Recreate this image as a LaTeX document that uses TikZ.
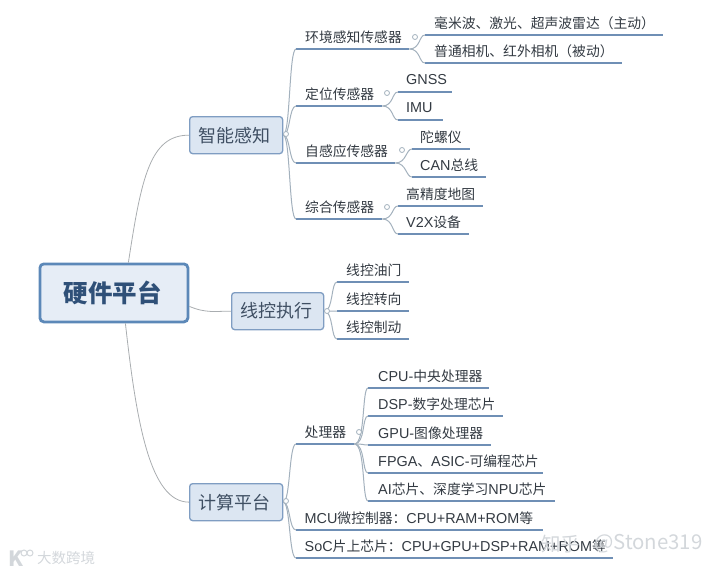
\documentclass[tikz,border=0pt]{standalone}
\usepackage{fontspec}
\setmainfont{Noto Sans CJK SC}
\newfontfamily\libfont{Liberation Sans}
\newcommand\lat[1]{{\libfont\fontsize{14.4}{16}\selectfont #1}}
\definecolor{inkroot}{HTML}{2F5078}
\definecolor{inktop}{HTML}{3F4F63}
\definecolor{inkleaf}{HTML}{333A42}
\definecolor{fillbox}{HTML}{DCE6F2}
\definecolor{edgeroot}{HTML}{5C88B8}
\definecolor{edgebox}{HTML}{7F9DC2}
\definecolor{uline}{HTML}{6F8FB5}
\definecolor{trunk}{HTML}{A3B1BD}
\definecolor{wire}{HTML}{A9ADB0}
\definecolor{mark}{HTML}{D3D7DB}
\tikzset{
  rootbox/.style={draw=edgeroot,line width=2.8pt,rounded corners=4pt,fill=fillbox!70!white,text=inkroot,font=\fontsize{24.5}{28}\selectfont\bfseries,inner sep=0pt,anchor=north west},
  topbox/.style={draw=edgebox,line width=1.3pt,rounded corners=3pt,fill=fillbox,text=inktop,font=\fontsize{18}{22}\selectfont,inner sep=0pt,anchor=north west},
  leafbox/.style={anchor=south west,inner sep=0pt,minimum height=24pt,align=left,text=inkleaf,font=\fontsize{13.8}{16}\selectfont},
  under/.style={draw=uline,line width=1.5pt},
  branch/.style={draw=trunk,line width=1pt},
  wirel/.style={draw=wire,line width=.8pt},
  hub/.style={circle,draw=trunk,fill=white,line width=.8pt,minimum size=5pt,inner sep=0pt},
  wm/.style={text=mark,inner sep=0pt},
  ringmark/.style={circle,draw=mark,line width=1pt,minimum size=6pt,inner sep=0pt},
}
% name, x1, x2, y of the underline, left pad, text
\newcommand\leaf[6]{%
  \node[leafbox,text width=#3pt-#2pt] (#1) at (#2,#4) {\hspace*{#5pt}#6};
  \draw[under] (#1.south west) -- (#1.south east);}
\newcommand\tolevel[2]{\draw[branch] (#1.east) .. controls +(7,0) and +(-7,0) .. (#2.south west);}
\newcommand\toleaf[2]{\draw[branch] (#1.south east) .. controls +(11,0) and +(-6,0) .. (#2.south west);}
\begin{document}
\begin{tikzpicture}[x=1pt,y=-1pt]
\useasboundingbox (0,0) rectangle (720,573);
% boxes
\node[rootbox,minimum width=148pt,minimum height=58pt] (root) at (38.5,262.5) {\raisebox{1pt}{\kern-2pt 硬件平台}};
\node[topbox,minimum width=93pt,minimum height=37pt] (sense) at (189,116) {\raisebox{.5pt}{\kern-3pt 智能感知}};
\node[topbox,minimum width=92pt,minimum height=37pt] (act) at (231,292) {\raisebox{-.5pt}{\kern-3pt 线控执行}};
\node[topbox,minimum width=93pt,minimum height=37pt] (comp) at (189,483) {\raisebox{.5pt}{\kern-3pt 计算平台}};
% root connectors
\draw[wirel] (root.north) ++(14.5,0) coordinate (rt) (rt) .. controls +(13,-85) and +(-39,0) .. (sense.west);
\draw[wirel] (root.east) ++(0,13.5) coordinate (rr) (rr) .. controls +(17,7) and +(-16,0) .. (act.west);
\draw[wirel] (root.south) ++(11.5,0) coordinate (rb) (rb) .. controls +(11,99) and +(-39,0) .. (comp.west);
% level 2
\leaf{env}{296}{409}{49}{9}{环境感知传感器}
\leaf{pos}{296}{382}{106}{9}{定位传感器}
\leaf{self}{296}{395}{163}{9}{自感应传感器}
\leaf{mix}{296}{382}{219}{9}{综合传感器}
\leaf{proc}{296}{354}{444}{8.5}{处理器}
\leaf{mcu}{296}{543}{530}{8.5}{\lat{MCU}微控制器：\lat{CPU+RAM+ROM}等}
\leaf{soc}{296}{613}{558}{8.5}{\lat{SoC}片上芯片：\lat{CPU+GPU+DSP+RAM+ROM}等}
% leaves
\leaf{radar}{425}{663}{35}{9}{毫米波、激光、超声波雷达（主动）}
\leaf{cam}{425}{622}{63}{9}{普通相机、红外相机（被动）}
\leaf{gnss}{398}{452}{92}{8}{\lat{GNSS}}
\leaf{imu}{398}{443}{120}{8}{\lat{IMU}}
\leaf{gyro}{412}{470}{149}{8}{陀螺仪}
\leaf{can}{412}{486}{177}{8}{\lat{CAN}总线}
\leaf{hdmap}{398}{483}{206}{8}{高精度地图}
\leaf{vtox}{398}{469}{234}{8}{\lat{V2X}设备}
\leaf{thr}{337}{409}{282}{9}{线控油门}
\leaf{ste}{337}{409}{311}{9}{线控转向}
\leaf{brk}{337}{409}{339}{9}{线控制动}
\leaf{cpu}{368}{489}{388}{10}{\lat{CPU-}中央处理器}
\leaf{dsp}{368}{503}{416}{10}{\lat{DSP-}数字处理芯片}
\leaf{gpu}{368}{491}{445}{10}{\lat{GPU-}图像处理器}
\leaf{fpga}{368}{543}{473}{10}{\lat{FPGA}、\lat{ASIC-}可编程芯片}
\leaf{ai}{368}{555}{501}{10}{\lat{AI}芯片、深度学习\lat{NPU}芯片}
% branches
\tolevel{sense}{env}\tolevel{sense}{pos}\tolevel{sense}{self}\tolevel{sense}{mix}
\tolevel{comp}{proc}\tolevel{comp}{mcu}\tolevel{comp}{soc}
\toleaf{env}{radar}\toleaf{env}{cam}
\toleaf{pos}{gnss}\toleaf{pos}{imu}
\toleaf{self}{gyro}\toleaf{self}{can}
\toleaf{mix}{hdmap}\toleaf{mix}{vtox}
\toleaf{proc}{cpu}\toleaf{proc}{dsp}\toleaf{proc}{gpu}\toleaf{proc}{fpga}\toleaf{proc}{ai}
\draw[branch] (act.east) .. controls +(9,0) and +(-6,0) .. (thr.south west);
\draw[branch] (act.east) -- (ste.south west);
\draw[branch] (act.east) .. controls +(9,0) and +(-6,0) .. (brk.south west);
% collapse marks
\node[hub] (h1) at (286,134) {};
\node[hub] (h2) at (415,37) {};
\node[hub] (h3) at (387,93) {};
\node[hub] (h4) at (402,150) {};
\node[hub] (h5) at (387,207) {};
\node[hub] (h6) at (327,311) {};
\node[hub] (h7) at (286,501) {};
\node[hub] (h8) at (359,432) {};
% watermarks
\node[wm,anchor=west,font=\fontsize{19.5}{22}\selectfont] (zh) at (541,544) {知乎};
\node[wm,anchor=west,font=\fontsize{20.4}{24}\selectfont] (st) at (594,544) {@Stone319};
\node[wm,anchor=west,font=\fontsize{14.5}{17}\selectfont] (dk) at (37,558) {大数跨境};
\node[wm,anchor=west,font=\fontsize{21}{24}\selectfont\bfseries] (kk) at (8,559) {K};
\node[ringmark] (o1) at (24,553) {};
\node[ringmark] (o2) at (30,553) {};
\end{tikzpicture}
\end{document}
